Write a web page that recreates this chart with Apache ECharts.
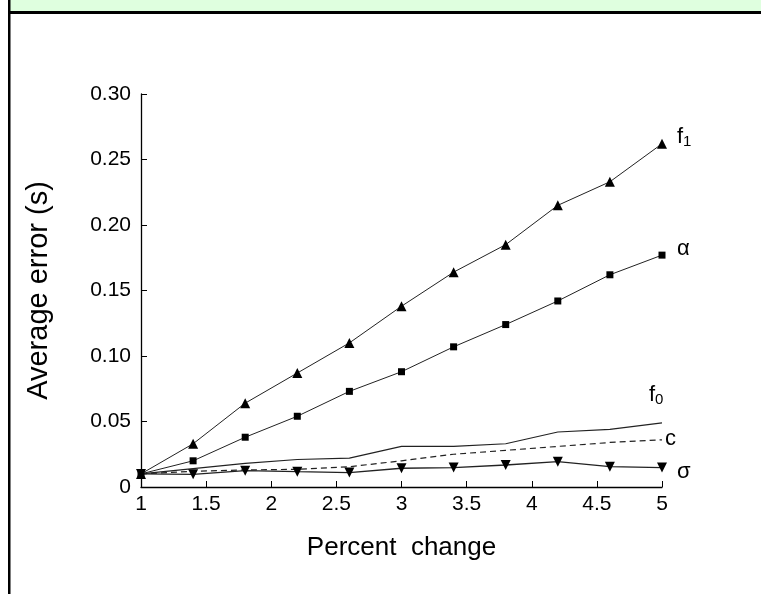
<!DOCTYPE html>
<html>
<head>
<meta charset="utf-8">
<script src="https://cdn.jsdelivr.net/npm/echarts@6/dist/echarts.min.js"></script>
<style>
html,body{margin:0;padding:0;background:#fff;}
#chart{width:761px;height:594px;}
</style>
</head>
<body>
<div id="chart"></div>
<script>
// Data
var percentChange = [1, 1.4, 1.8, 2.2, 2.6, 3.0, 3.4, 3.8, 4.2, 4.6, 5];
var errF1    = [0.010, 0.033, 0.064, 0.087, 0.110, 0.138, 0.164, 0.185, 0.215, 0.233, 0.262];
var errAlpha = [0.010, 0.020, 0.038, 0.054, 0.073, 0.088, 0.107, 0.124, 0.142, 0.162, 0.177];
var errF0    = [0.010, 0.014, 0.018, 0.021, 0.022, 0.031, 0.031, 0.033, 0.042, 0.044, 0.049];
var errC     = [0.010, 0.012, 0.013, 0.0135, 0.0155, 0.020, 0.025, 0.028, 0.031, 0.034, 0.036];
var errSigma = [0.010, 0.0097, 0.0125, 0.0117, 0.011, 0.0143, 0.0148, 0.0168, 0.0193, 0.0155, 0.0148];
var seriesNames = ['f1', 'α', 'f0', 'c', 'σ'];
var xTitle = 'Percent  change';
var yTitle = 'Average error (s)';

function pairs(ys) { return percentChange.map(function (x, i) { return [x, ys[i]]; }); }

var FONT = 'Liberation Sans, Arial, sans-serif';
var rich = {
  m: { fontSize: 22, fontFamily: FONT, color: '#000', lineHeight: 26, verticalAlign: 'middle' },
  s: { fontSize: 15, fontFamily: FONT, color: '#000', lineHeight: 15, verticalAlign: 'bottom' }
};
function endLbl(fmt, off) {
  return { show: true, formatter: fmt, distance: 0, offset: off, rich: rich, fontFamily: FONT, fontSize: 22, color: '#000' };
}

var chart = echarts.init(document.getElementById('chart'), null, { renderer: 'canvas' });
chart.setOption({
  backgroundColor: '#fff',
  animation: false,
  graphic: [
    { type: 'rect', shape: { x: 10, y: 0, width: 751, height: 11 }, style: { fill: '#dfffdf' }, silent: true },
    { type: 'rect', shape: { x: 8, y: 11, width: 753, height: 3 }, style: { fill: '#000' }, silent: true },
    { type: 'rect', shape: { x: 8, y: 0, width: 2.5, height: 594 }, style: { fill: '#000' }, silent: true }
  ],
  grid: { left: 141, right: 99, top: 94, bottom: 107, containLabel: false },
  xAxis: {
    type: 'value', min: 1, max: 5, interval: 0.5,
    name: xTitle, nameLocation: 'middle', nameGap: 48,
    nameTextStyle: { fontFamily: FONT, fontSize: 26, color: '#000' },
    axisLine: { show: true, lineStyle: { color: '#000', width: 1.3 } },
    axisTick: { show: true, inside: true, length: 6, lineStyle: { color: '#000' } },
    axisLabel: { fontFamily: FONT, fontSize: 21, color: '#000', margin: 7 },
    splitLine: { show: false }
  },
  yAxis: {
    type: 'value', min: 0, max: 0.3, interval: 0.05,
    name: yTitle, nameLocation: 'middle', nameGap: 88, nameRotate: 90,
    nameTextStyle: { fontFamily: FONT, fontSize: 29, color: '#000' },
    axisLine: { show: true, lineStyle: { color: '#000', width: 1.3 } },
    axisTick: { show: true, inside: true, length: 6, lineStyle: { color: '#000' } },
    axisLabel: {
      fontFamily: FONT, fontSize: 21, color: '#000', margin: 10,
      formatter: function (v) { return v === 0 ? '0' : v.toFixed(2); }
    },
    splitLine: { show: false }
  },
  series: [
    {
      name: seriesNames[0], type: 'line', data: pairs(errF1),
      symbol: 'triangle', symbolSize: 10, showSymbol: true,
      lineStyle: { color: '#222', width: 1 }, itemStyle: { color: '#000' },
      endLabel: endLbl('{m|f}{s|1}', [15, -7])
    },
    {
      name: seriesNames[1], type: 'line', data: pairs(errAlpha),
      symbol: 'rect', symbolSize: 7,
      lineStyle: { color: '#222', width: 1 }, itemStyle: { color: '#000' },
      endLabel: endLbl('{m|α}', [15, -6])
    },
    {
      name: seriesNames[2], type: 'line', data: pairs(errF0),
      symbol: 'none',
      lineStyle: { color: '#222', width: 1.2 }, itemStyle: { color: '#000' },
      endLabel: endLbl('{m|f}{s|0}', [-13, -28])
    },
    {
      name: seriesNames[3], type: 'line', data: pairs(errC),
      symbol: 'none',
      lineStyle: { color: '#222', width: 1.2, type: [6, 4] }, itemStyle: { color: '#000' },
      endLabel: endLbl('{m|c}', [3, -1])
    },
    {
      name: seriesNames[4], type: 'line', data: pairs(errSigma),
      symbol: 'triangle', symbolRotate: 180, symbolSize: 10,
      lineStyle: { color: '#222', width: 1.3 }, itemStyle: { color: '#000' },
      endLabel: endLbl('{m|σ}', [15, 4])
    }
  ]
});
</script>
</body>
</html>
